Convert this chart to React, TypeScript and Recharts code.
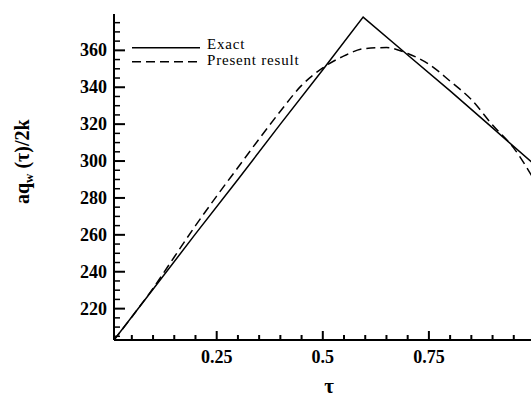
import React from 'react';
import { LineChart, Line, XAxis, YAxis, Legend } from 'recharts';

// exact solution (triangular heat flux)
const tauExact = [0.008, 0.1, 0.2, 0.3, 0.4, 0.5, 0.595, 0.7, 0.8, 0.9, 1.0];
const qExact = [203, 230.5, 260.5, 290, 320, 349.5, 378, 357.5, 338, 318, 297.8];

// present result (smooth estimate)
const tauPresent = [
  0.008, 0.05, 0.1, 0.15, 0.2, 0.25, 0.3, 0.35, 0.4, 0.45, 0.5, 0.55, 0.6, 0.65,
  0.7, 0.75, 0.8, 0.85, 0.9, 0.95, 1.0,
];
const qPresent = [
  203, 215.5, 231, 248, 265, 281, 296.5, 312, 327, 341, 350.5, 357, 361,
  361.5, 358.3, 352.5, 343.3, 333.3, 319.5, 307, 289,
];

const xTicks = [
  0.05, 0.1, 0.15, 0.2, 0.25, 0.3, 0.35, 0.4, 0.45, 0.5, 0.55, 0.6, 0.65, 0.7,
  0.75, 0.8, 0.85, 0.9, 0.95,
];
const xMajor = [0.25, 0.5, 0.75];
const xLabels = ['0.25', '0.5', '0.75'];

const yTicks = [
  205, 210, 215, 220, 225, 230, 235, 240, 245, 250, 255, 260, 265, 270, 275,
  280, 285, 290, 295, 300, 305, 310, 315, 320, 325, 330, 335, 340, 345, 350,
  355, 360, 365, 370, 375,
];
const yMajor = [220, 240, 260, 280, 300, 320, 340, 360];

const seriesNames = ['Exact', 'Present result'];

const exactData = tauExact.map((t, i) => ({ tau: t, q: qExact[i] }));
const presentData = tauPresent.map((t, i) => ({ tau: t, q: qPresent[i] }));

const FONT = '"Liberation Serif", "Times New Roman", serif';
const dashes: Record<string, string | undefined> = {
  Exact: undefined,
  'Present result': '9 5',
};

function XTick(props: any) {
  const x = Number(props.x);
  const y = Number(props.y);
  const idx = xMajor.indexOf(props.payload.value);
  const major = idx >= 0;
  const len = major ? 9 : 5;
  return (
    <g>
      <path d={`M${x},${y}L${x},${y - len}`} stroke="#000" strokeWidth={2} fill="none" />
      {major && (
        <text x={x} y={y + 23} textAnchor="middle" fontFamily={FONT} fontWeight="bold" fontSize={18} fill="#000">
          {xLabels[idx]}
        </text>
      )}
    </g>
  );
}

function YTick(props: any) {
  const x = Number(props.x);
  const y = Number(props.y);
  const major = yMajor.includes(props.payload.value);
  const len = major ? 11 : 6;
  return (
    <g>
      <path d={`M${x},${y}L${x + len},${y}`} stroke="#000" strokeWidth={major ? 2 : 1.5} fill="none" />
      {major && (
        <text x={x - 7} y={y + 6} textAnchor="end" fontFamily={FONT} fontWeight="bold" fontSize={18} fill="#000">
          {props.payload.value}
        </text>
      )}
    </g>
  );
}

function LegendBox({ payload }: any) {
  const items = (payload ?? []).filter((p: any) => seriesNames.includes(p.value));
  return (
    <svg width={200} height={36} style={{ display: 'block' }}>
      {items.map((p: any, i: number) => (
        <g key={p.value}>
          <line x1={0} x2={68} y1={11.7 + i * 14} y2={11.7 + i * 14} stroke="#000" strokeWidth={1.5} strokeDasharray={dashes[p.value]} />
          <text x={75} y={13.3 + i * 16} fontFamily={FONT} fontSize={15} letterSpacing={0.8} fill="#000">
            {p.value}
          </text>
        </g>
      ))}
    </svg>
  );
}

function YLabel({ viewBox }: any) {
  const cx = viewBox.x + 29;
  const cy = 161.7;
  return (
    <text x={cx} y={cy} transform={`rotate(-90 ${cx} ${cy})`} textAnchor="middle" fontFamily={FONT} fontWeight="bold" fontSize={20} fill="#000">
      aq<tspan fontSize={13} dy={4}>w</tspan>
      <tspan dy={-4}> (τ)/2k</tspan>
    </text>
  );
}

function XLabel({ viewBox }: any) {
  return (
    <text x={viewBox.x + 215} y={viewBox.y + 53} textAnchor="middle" fontFamily={FONT} fontWeight="bold" fontSize={21} fill="#000">
      τ
    </text>
  );
}

export default function App() {
  return (
    <div style={{ position: 'absolute', left: 0, top: 0, width: 531, height: 398, overflow: 'hidden', background: '#fff' }}>
      <LineChart width={545} height={398} margin={{ top: 14, right: 10, bottom: 0, left: 0 }}>
        <XAxis
          xAxisId="bottom"
          type="number"
          dataKey="tau"
          domain={[0.008, 1]}
          allowDataOverflow
          ticks={xTicks}
          interval={0}
          tick={XTick}
          tickLine={false}
          tickSize={0}
          tickMargin={0}
          height={58}
          axisLine={{ stroke: '#000', strokeWidth: 2 }}
          label={<XLabel />}
        />
        <XAxis
          xAxisId="top"
          orientation="top"
          type="number"
          domain={[0.008, 1]}
          tick={false}
          tickLine={false}
          height={0}
          axisLine={{ stroke: '#000', strokeWidth: 2 }}
        />
        <YAxis
          type="number"
          domain={[203, 379.7]}
          allowDataOverflow
          ticks={yTicks}
          interval={0}
          tick={YTick}
          tickLine={false}
          tickSize={0}
          tickMargin={0}
          width={114}
          axisLine={{ stroke: '#000', strokeWidth: 2 }}
          label={<YLabel />}
        />
        <Legend
          layout="vertical"
          align="center"
          verticalAlign="middle"
          wrapperStyle={{ left: 132, top: 36, width: 200, height: 36 }}
          content={<LegendBox />}
        />
        <Line
          xAxisId="bottom"
          name={seriesNames[0]}
          data={exactData}
          dataKey="q"
          type="linear"
          stroke="#000"
          strokeWidth={1.5}
          dot={false}
          isAnimationActive={false}
        />
        <Line
          xAxisId="bottom"
          name={seriesNames[1]}
          data={presentData}
          dataKey="q"
          type="monotone"
          stroke="#000"
          strokeWidth={1.5}
          strokeDasharray="9 5"
          dot={false}
          isAnimationActive={false}
        />
      </LineChart>
    </div>
  );
}
